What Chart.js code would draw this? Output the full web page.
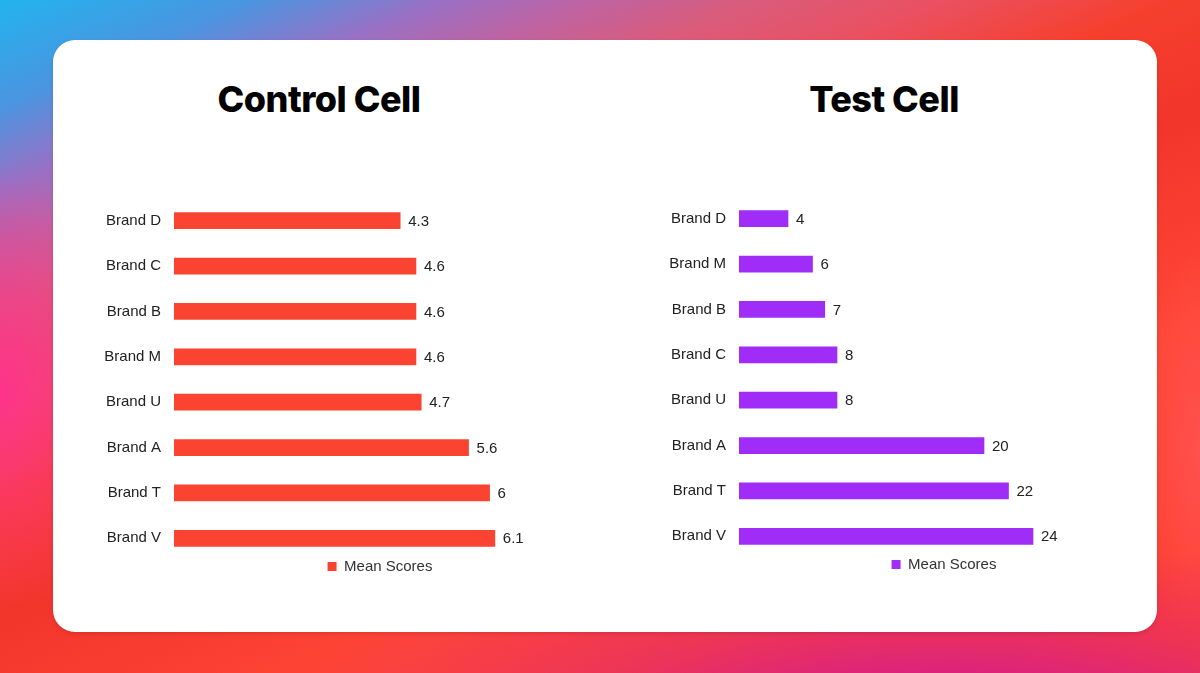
<!DOCTYPE html>
<html>
<head>
<meta charset="utf-8">
<script src="https://cdn.jsdelivr.net/npm/chart.js@4/dist/chart.umd.min.js"></script>
<style>
  html, body { margin: 0; padding: 0; }
  body {
    width: 1200px; height: 673px; overflow: hidden; position: relative;
    background:
      radial-gradient(ellipse 650px 170px at 940px 710px, rgba(205, 22, 155, 0.95) 0%, rgba(220, 40, 120, 0.5) 55%, rgba(220, 40, 120, 0) 100%),
      radial-gradient(ellipse 60px 200px at 1200px 450px, rgba(255, 85, 85, 0.8) 0%, rgba(255, 85, 85, 0) 100%),
      radial-gradient(ellipse 140px 220px at 0px 390px, rgba(255, 50, 140, 0.95) 0%, rgba(255, 50, 140, 0) 100%),
      linear-gradient(157deg, #22b4ee 0%, #4a95e0 9%, #9a70c4 16%, #bd64a4 21%, #d95c7c 27%, #ea5060 34%, #f5402e 42%, #f2352b 52%, #ff4636 70%, #ff3d30 100%);
  }
  .card {
    position: absolute; left: 53px; top: 40px; width: 1104px; height: 592px;
    background: #fff; border-radius: 22px;
    box-shadow: 0 2px 4px rgba(0, 0, 0, 0.12);
  }
  .title {
    position: absolute; top: 77px; margin: 0; width: 400px; text-align: center;
    font-family: Inter, "Liberation Sans", sans-serif; font-weight: 800; font-size: 36px;
    letter-spacing: -0.5px; color: #000; line-height: 44px;
  }
  .chart { position: absolute; }
</style>
</head>
<body>
<div class="card"></div>
<h2 class="title" style="left:119px">Control Cell</h2>
<h2 class="title" style="left:684px">Test Cell</h2>
<div class="chart" style="left:60px; top:176px; width:640px; height:408px;"><canvas id="control"></canvas></div>
<div class="chart" style="left:659px; top:174px; width:570px; height:408px;"><canvas id="test"></canvas></div>
<script>
const seriesName = "Mean Scores";
const controlBrands = ["Brand D", "Brand C", "Brand B", "Brand M", "Brand U", "Brand A", "Brand T", "Brand V"];
const controlScores = [4.3, 4.6, 4.6, 4.6, 4.7, 5.6, 6, 6.1];
const testBrands = ["Brand D", "Brand M", "Brand B", "Brand C", "Brand U", "Brand A", "Brand T", "Brand V"];
const testScores = [4, 6, 7, 8, 8, 20, 22, 24];

Chart.defaults.font.family = "'Liberation Sans', Arial, sans-serif";
Chart.defaults.font.size = 15;
Chart.defaults.color = "#222";

// value labels at the end of each bar
const valueLabels = {
  id: "valueLabels",
  afterDatasetsDraw(chart) {
    const ctx = chart.ctx;
    ctx.save();
    ctx.font = "15px 'Liberation Sans', Arial, sans-serif";
    ctx.fillStyle = "#222";
    ctx.textAlign = "left";
    ctx.textBaseline = "middle";
    chart.getDatasetMeta(0).data.forEach((bar, i) => {
      ctx.fillText(String(chart.data.datasets[0].data[i]), bar.x + 8, bar.y + 1);
    });
    ctx.restore();
  }
};

function makeChart(id, labels, values, color, xMax, axisWidth) {
  return new Chart(document.getElementById(id), {
    type: "bar",
    data: {
      labels: labels,
      datasets: [{
        label: seriesName,
        data: values,
        backgroundColor: color,
        borderWidth: 0,
        barThickness: 16
      }]
    },
    options: {
      indexAxis: "y",
      responsive: true,
      maintainAspectRatio: false,
      animation: false,
      layout: { padding: 0 },
      scales: {
        x: { display: false, min: 0, max: xMax },
        y: {
          grid: { display: false, drawTicks: false },
          border: { display: false },
          ticks: { padding: 13, color: "#222", font: { size: 15 } },
          afterFit(scale) { scale.width = axisWidth; }
        }
      },
      plugins: {
        legend: {
          position: "bottom",
          labels: { boxWidth: 9, boxHeight: 9, padding: -2, color: "#333", font: { size: 15 } }
        },
        tooltip: { enabled: false }
      }
    },
    plugins: [valueLabels]
  });
}

makeChart("control", controlBrands, controlScores, "#fa4330", 10, 114);
makeChart("test", testBrands, testScores, "#a02cf8", 40, 80);
</script>
</body>
</html>
